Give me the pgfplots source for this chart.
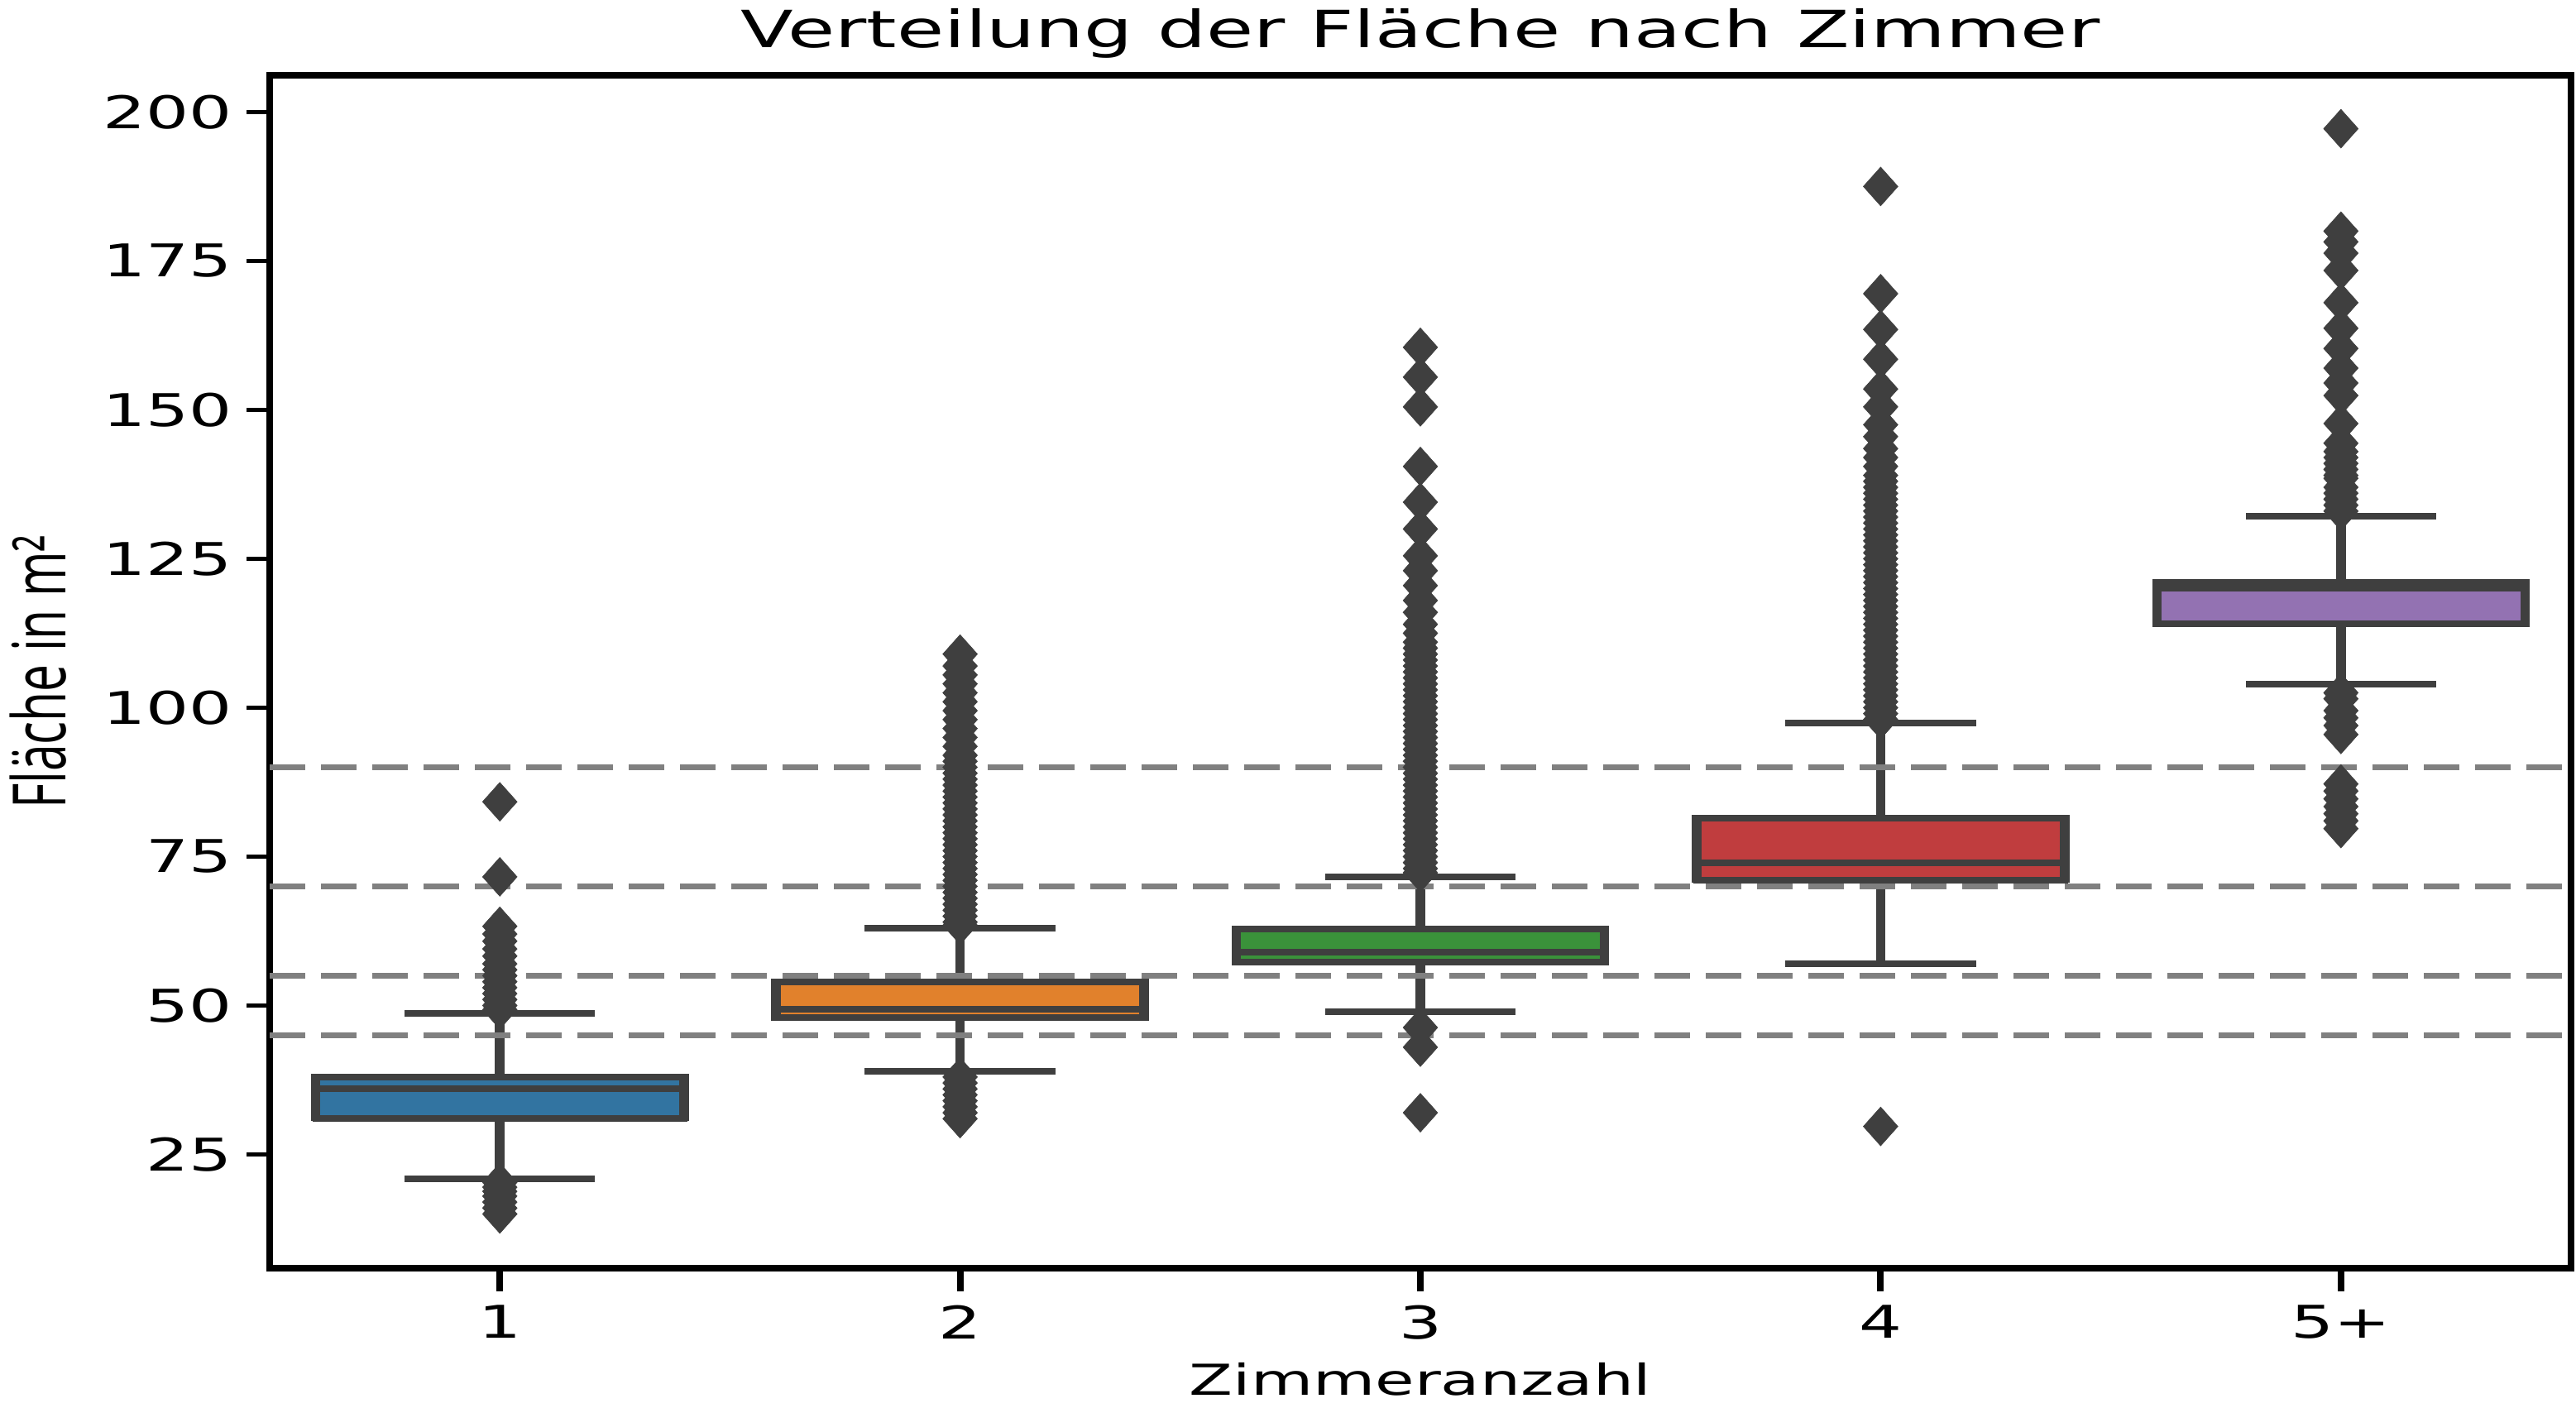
\documentclass[border=0pt]{standalone}
\usepackage{fontspec}
\setmainfont{DejaVu Sans}[FakeStretch=1.5]
\newfontfamily\ylfont{Open Sans}[FakeStretch=0.66]
\usepackage{pgfplots}
\pgfplotsset{compat=1.18}
\definecolor{cA}{HTML}{3274A1}
\definecolor{cB}{HTML}{E1812C}
\definecolor{cC}{HTML}{3A923A}
\definecolor{cD}{HTML}{C03D3E}
\definecolor{cE}{HTML}{9372B2}
\definecolor{edge}{HTML}{3F3F3F}
\definecolor{dashgray}{HTML}{808080}
\pgfplotsset{
  bx/.style={fill=#1, draw=none, mark=none, forget plot},
  hz/.style={draw=edge, line width=1.6pt, line cap=rect, unbounded coords=jump, mark=none, forget plot},
  vt/.style={draw=edge, line width=2.3pt, line cap=butt, unbounded coords=jump, mark=none, forget plot},
  fl/.style={only marks, mark=diamond*, mark size=4.7pt,
    mark options={draw=edge, fill=edge, line width=0.1pt, xscale=1.19, solid}, forget plot},
  hl/.style={dashgray, line width=1.4pt, dash pattern=on 8.6pt off 3.8pt, mark=none, forget plot}
}
\begin{document}
\begin{tikzpicture}
\path[use as bounding box] (-65.2pt,-33.6pt) rectangle (557.6pt,306.6pt);
\begin{axis}[
  at={(0,0)}, anchor=south west, scale only axis,
  width=556.4pt, height=288.3pt,
  xmin=-0.5, xmax=4.5, ymin=5.9, ymax=206.1,
  xtick={0,1,2,3,4}, xticklabels={1,2,3,4,5+},
  ytick={25,50,75,100,125,150,175,200},
  tick align=outside, major tick length=5.5pt,
  xtick style={line width=1.6pt, black},
  ytick style={line width=1.1pt, black},
  x axis line style={line width=1.1pt},
  y axis line style={line width=1.6pt},
  xtick pos=bottom, ytick pos=left,
  /pgf/number format/assume math mode=true,
  ticklabel style={font=\fontsize{10.9}{12}\selectfont},
]
% box fills (Q1 to Q3)
\addplot[bx=cA] coordinates {(-0.4,31.1) (0.4,31.1) (0.4,38.0) (-0.4,38.0) (-0.4,31.1)};
\addplot[bx=cB] coordinates {(0.6,48.0) (1.4,48.0) (1.4,54.0) (0.6,54.0) (0.6,48.0)};
\addplot[bx=cC] coordinates {(1.6,57.3) (2.4,57.3) (2.4,62.9) (1.6,62.9) (1.6,57.3)};
\addplot[bx=cD] coordinates {(2.6,71.1) (3.4,71.1) (3.4,81.4) (2.6,81.4) (2.6,71.1)};
\addplot[bx=cE] coordinates {(3.6,114.1) (4.4,114.1) (4.4,121.1) (3.6,121.1) (3.6,114.1)};
% vertical strokes: whiskers and box sides
\addplot[vt] coordinates {(0,20.9) (0,31.1) (nan,nan) (0,38.0) (0,48.7) (nan,nan) (-0.4,30.56) (-0.4,38.54) (nan,nan) (0.4,30.56) (0.4,38.54)};
\addplot[vt] coordinates {(1,38.9) (1,48.0) (nan,nan) (1,54.0) (1,63.0) (nan,nan) (0.6,47.46) (0.6,54.54) (nan,nan) (1.4,47.46) (1.4,54.54)};
\addplot[vt] coordinates {(2,48.9) (2,57.3) (nan,nan) (2,62.9) (2,71.6) (nan,nan) (1.6,56.76) (1.6,63.44) (nan,nan) (2.4,56.76) (2.4,63.44)};
\addplot[vt] coordinates {(3,57.0) (3,71.1) (nan,nan) (3,81.4) (3,97.4) (nan,nan) (2.6,70.56) (2.6,81.94) (nan,nan) (3.4,70.56) (3.4,81.94)};
\addplot[vt] coordinates {(4,104.0) (4,114.1) (nan,nan) (4,121.1) (4,132.2) (nan,nan) (3.6,113.56) (3.6,121.64) (nan,nan) (4.4,113.56) (4.4,121.64)};
% horizontal strokes: caps, box top/bottom, median
\addplot[hz] coordinates {(-0.2,20.9) (0.2,20.9) (nan,nan) (-0.2,48.7) (0.2,48.7) (nan,nan) (-0.4,31.1) (0.4,31.1) (nan,nan) (-0.4,38.0) (0.4,38.0) (nan,nan) (-0.4,36.0) (0.4,36.0)};
\addplot[hz] coordinates {(0.8,38.9) (1.2,38.9) (nan,nan) (0.8,63.0) (1.2,63.0) (nan,nan) (0.6,48.0) (1.4,48.0) (nan,nan) (0.6,54.0) (1.4,54.0) (nan,nan) (0.6,49.4) (1.4,49.4)};
\addplot[hz] coordinates {(1.8,48.9) (2.2,48.9) (nan,nan) (1.8,71.6) (2.2,71.6) (nan,nan) (1.6,57.3) (2.4,57.3) (nan,nan) (1.6,62.9) (2.4,62.9) (nan,nan) (1.6,58.9) (2.4,58.9)};
\addplot[hz] coordinates {(2.8,57.0) (3.2,57.0) (nan,nan) (2.8,97.4) (3.2,97.4) (nan,nan) (2.6,71.1) (3.4,71.1) (nan,nan) (2.6,81.4) (3.4,81.4) (nan,nan) (2.6,74.0) (3.4,74.0)};
\addplot[hz] coordinates {(3.8,104.0) (4.2,104.0) (nan,nan) (3.8,132.2) (4.2,132.2) (nan,nan) (3.6,114.1) (4.4,114.1) (nan,nan) (3.6,121.1) (4.4,121.1) (nan,nan) (3.6,120.0) (4.4,120.0)};
% outliers
\addplot[fl] table[row sep=\\] {x y\\ 0 84.2\\ 0 71.6\\ 0 63.3\\ 0 62\\ 0 60.8\\ 0 59.5\\ 0 58.3\\ 0 57\\ 0 56\\ 0 55\\ 0 54\\ 0 53\\ 0 52\\ 0 51\\ 0 50\\ 0 49.3\\
  0 20.3\\ 0 19.5\\ 0 18.8\\ 0 18\\ 0 17\\ 0 16\\ 0 15\\};
\addplot[fl] table[row sep=\\] {x y\\ 1 109\\ 1 107\\ 1 105.5\\ 1 104\\ 1 102.5\\ 1 101\\ 1 99.5\\ 1 98\\ 1 96.5\\ 1 95\\ 1 93.5\\ 1 92\\
  1 91\\ 1 90\\ 1 89\\ 1 88\\ 1 87\\ 1 86\\ 1 85\\ 1 84\\ 1 83\\ 1 82\\ 1 81\\ 1 80\\ 1 79\\ 1 78\\ 1 77\\ 1 76\\ 1 75\\ 1 74\\ 1 73\\ 1 72\\ 1 71\\ 1 70\\ 1 69\\ 1 68\\ 1 67\\ 1 66\\ 1 65\\ 1 64\\ 1 63.5\\
  1 38\\ 1 37\\ 1 36\\ 1 35\\ 1 34\\ 1 33\\ 1 32\\ 1 31\\};
\addplot[fl] table[row sep=\\] {x y\\ 2 160.5\\ 2 155.5\\ 2 150.5\\ 2 140.5\\ 2 134.5\\ 2 130\\ 2 125.5\\ 2 123\\ 2 120.5\\ 2 118\\ 2 116\\ 2 114\\ 2 112.5\\ 2 111\\
  2 110\\ 2 109\\ 2 108\\ 2 107\\ 2 106\\ 2 105\\ 2 104\\ 2 103\\ 2 102\\ 2 101\\ 2 100\\ 2 99\\ 2 98\\ 2 97\\ 2 96\\ 2 95\\ 2 94\\ 2 93\\ 2 92\\ 2 91\\ 2 90\\ 2 89\\ 2 88\\ 2 87\\ 2 86\\ 2 85\\ 2 84\\ 2 83\\ 2 82\\ 2 81\\ 2 80\\ 2 79\\ 2 78\\ 2 77\\ 2 76\\ 2 75\\ 2 74\\ 2 73\\ 2 72.3\\
  2 46.3\\ 2 43\\ 2 32\\};
\addplot[fl] table[row sep=\\] {x y\\ 3 187.5\\ 3 169.5\\ 3 163.5\\ 3 158.5\\ 3 153.5\\ 3 150.5\\ 3 147.5\\ 3 145.5\\ 3 143.5\\ 3 142\\ 3 140.5\\ 3 139\\
  3 138\\ 3 137\\ 3 136\\ 3 135\\ 3 134\\ 3 133\\ 3 132\\ 3 131\\ 3 130\\ 3 129\\ 3 128\\ 3 127\\ 3 126\\ 3 125\\ 3 124\\ 3 123\\ 3 122\\ 3 121\\ 3 120\\ 3 119\\ 3 118\\ 3 117\\ 3 116\\ 3 115\\ 3 114\\ 3 113\\ 3 112\\ 3 111\\ 3 110\\ 3 109\\ 3 108\\ 3 107\\ 3 106\\ 3 105\\ 3 104\\ 3 103\\ 3 102\\ 3 101\\ 3 100\\ 3 99\\ 3 98\\
  3 29.7\\};
\addplot[fl] table[row sep=\\] {x y\\ 4 197.2\\ 4 180\\ 4 178.2\\ 4 176.3\\ 4 173.4\\ 4 168\\ 4 163.7\\ 4 160.3\\ 4 157\\ 4 154.5\\ 4 152.4\\ 4 147.7\\ 4 144.4\\ 4 143\\ 4 142\\ 4 141\\ 4 140\\ 4 139\\ 4 138.5\\ 4 137\\ 4 136\\ 4 135\\ 4 134\\ 4 133\\
  4 102.5\\ 4 101.5\\ 4 99.5\\ 4 98.3\\ 4 97\\ 4 95.5\\ 4 87.2\\ 4 86\\ 4 84.7\\ 4 83.4\\ 4 82.2\\ 4 81\\ 4 79.7\\};
% reference lines
\addplot[hl] coordinates {(-0.5,90) (4.5,90)};
\addplot[hl] coordinates {(-0.5,70) (4.5,70)};
\addplot[hl] coordinates {(-0.5,55) (4.5,55)};
\addplot[hl] coordinates {(-0.5,45) (4.5,45)};
\end{axis}
\node[anchor=base, font=\fontsize{12.4}{14}\selectfont] at (278.2pt,295.1pt) {Verteilung der Fläche nach Zimmer};
\node[anchor=base, font=\fontsize{10.3}{12}\selectfont] at (278.2pt,-30.6pt) {Zimmeranzahl};
\node[anchor=base, rotate=90, font=\fontsize{17.8}{20}\selectfont\ylfont] at (-49.4pt,144.15pt) {Fläche in m²};
\end{tikzpicture}
\end{document}
